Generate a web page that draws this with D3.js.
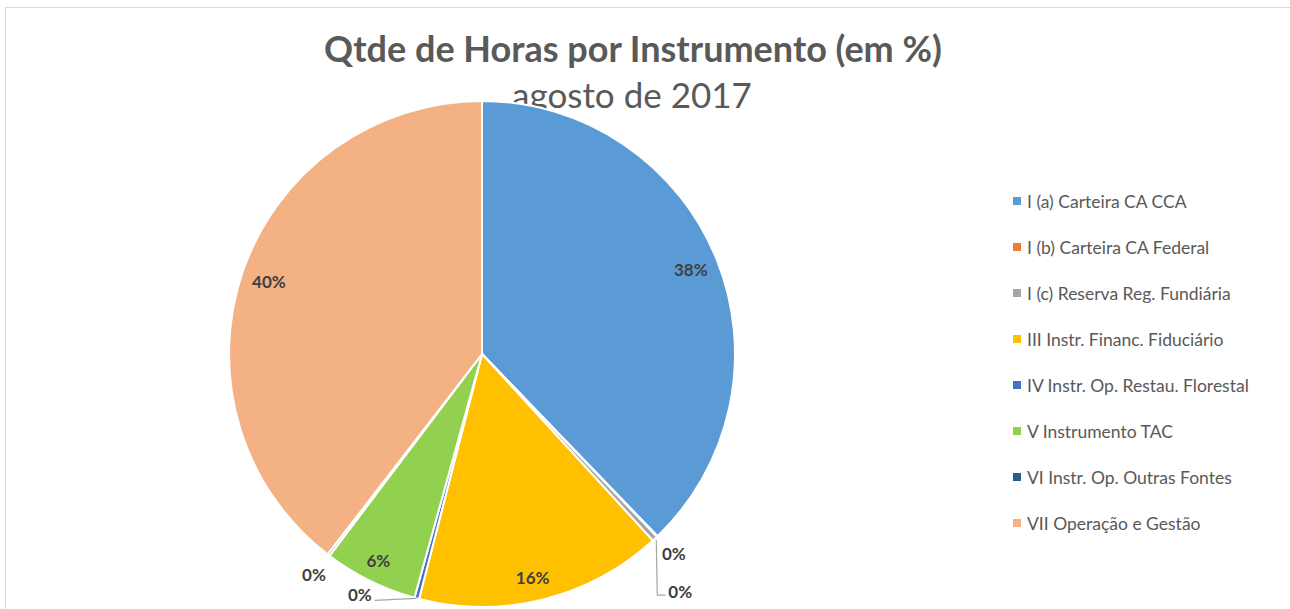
<!DOCTYPE html>
<html>
<head>
<meta charset="utf-8">
<script src="https://cdn.jsdelivr.net/npm/d3@7"></script>
<style>
  body { margin: 0; background: #fff; }
  svg { display: block; font-family: Lato, "Open Sans", sans-serif; }
</style>
</head>
<body>
<div id="chart"></div>
<script>
const categories = [
  "I (a) Carteira CA CCA",
  "I (b) Carteira CA Federal",
  "I (c) Reserva Reg. Fundiária",
  "III Instr. Financ. Fiduciário",
  "IV Instr. Op. Restau. Florestal",
  "V Instrumento TAC",
  "VI Instr. Op. Outras Fontes",
  "VII Operação e Gestão"
];
const values = [37.8, 0.05, 0.35, 15.8, 0.3, 6.0, 0.15, 39.55];
const colors = ["#5B9BD5", "#ED7D31", "#A5A5A5", "#FFC000", "#4472C4", "#92D050", "#255E91", "#F4B183"];
const title = "Qtde de Horas por Instrumento (em %)";
const subtitle = "agosto de 2017";

const W = 1290, H = 609;
const cx = 482, cy = 354, r = 253;

const svg = d3.select("#chart").append("svg")
  .attr("width", W)
  .attr("height", H);

// chart area border
svg.append("rect")
  .attr("x", 5.5).attr("y", 7.5)
  .attr("width", W).attr("height", H)
  .attr("fill", "none")
  .attr("stroke", "#D9D9D9");

// titles
svg.append("text")
  .attr("x", 633).attr("y", 62)
  .attr("text-anchor", "middle")
  .style("font-size", "36px")
  .style("font-weight", "bold")
  .style("fill", "#595959")
  .text(title);

svg.append("text")
  .attr("x", 632).attr("y", 108)
  .attr("text-anchor", "middle")
  .style("font-size", "35px")
  .style("fill", "#595959")
  .text(subtitle);

const data = categories.map((c, i) => ({ name: c, value: values[i], color: colors[i] }));
const total = d3.sum(values);

const pie = d3.pie().sort(null).value(d => d.value);
const arcs = pie(data);
const arc = d3.arc().innerRadius(0).outerRadius(r);

const g = svg.append("g").attr("transform", `translate(${cx},${cy})`);

g.selectAll("path")
  .data(arcs)
  .join("path")
    .attr("d", arc)
    .attr("fill", d => d.data.color)
    .attr("stroke", "#fff")
    .attr("stroke-width", 2)
    .attr("stroke-linejoin", "round");

// label helpers
const mid = d => (d.startAngle + d.endAngle) / 2;
const polar = (a, rad) => [Math.sin(a) * rad, -Math.cos(a) * rad];
const pct = d => Math.round(d.value / total * 100) + "%";

const labelG = g.append("g")
  .style("font-size", "17px")
  .style("font-weight", "bold")
  .style("fill", "#404040");

arcs.forEach((d, i) => {
  const share = d.value / total;
  let x, y, anchor = "middle";
  if (share > 0.03) {
    [x, y] = polar(mid(d), r * 0.89);
    if (share < 0.3) { x -= 4; y += 5; }
  } else if (i === 2) {
    // pushed down with an elbow leader line
    const [ex, ey] = polar(mid(d), r + 2);
    const ly = ey + 55;
    g.append("polyline")
      .attr("points", `${ex},${ey} ${ex + 1},${ly} ${ex + 9},${ly}`)
      .attr("fill", "none").attr("stroke", "#A6A6A6").attr("stroke-width", 1.2);
    x = ex + 12; y = ly - 4; anchor = "start";
  } else if (i === 4) {
    const [ex, ey] = polar(mid(d), r);
    const lx = ex - 42;
    g.append("polyline")
      .attr("points", `${ex},${ey} ${lx},${ey + 2}`)
      .attr("fill", "none").attr("stroke", "#A6A6A6").attr("stroke-width", 1.2);
    x = lx - 3; y = ey - 4; anchor = "end";
  } else {
    [x, y] = polar(mid(d), r * 1.095);
  }
  labelG.append("text")
    .attr("x", x).attr("y", y)
    .attr("text-anchor", anchor)
    .attr("dominant-baseline", "central")
    .text(pct(d.data));
});

// legend
const legend = svg.append("g")
  .attr("transform", "translate(1013,201)")
  .selectAll("g")
  .data(data)
  .join("g")
    .attr("transform", (d, i) => `translate(0,${i * 46})`);

legend.append("rect")
  .attr("x", 0).attr("y", -4)
  .attr("width", 8).attr("height", 8)
  .attr("fill", d => d.color);

legend.append("text")
  .attr("x", 14).attr("y", 0)
  .attr("dominant-baseline", "central")
  .style("font-size", "17.5px")
  .style("fill", "#595959")
  .text(d => d.name);
</script>
</body>
</html>
